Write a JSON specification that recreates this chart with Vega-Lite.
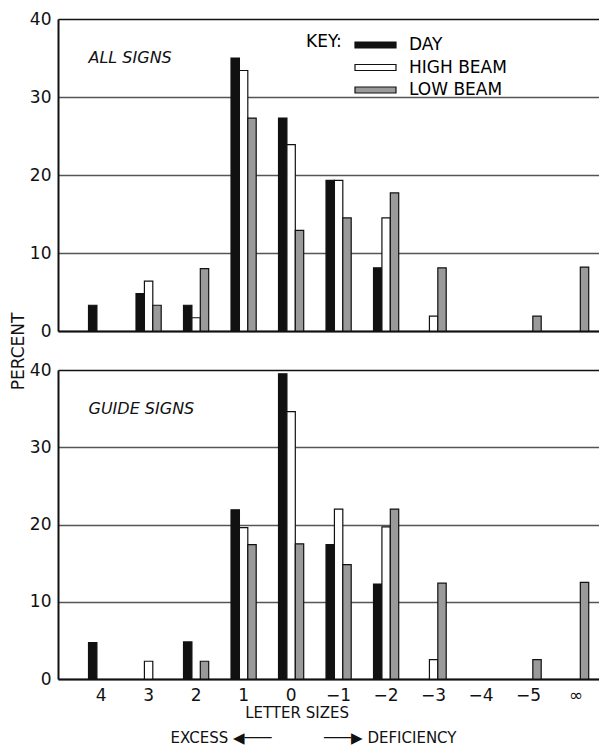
{
  "$schema": "https://vega.github.io/schema/vega-lite/v6.json",
  "padding": {"left": 9, "top": 10, "right": 0, "bottom": 0},
  "bounds": "flush",
  "spacing": 39,
  "config": {
    "font": "DejaVu Sans",
    "view": {"stroke": null},
    "axis": {"titleFontWeight": "normal", "labelColor": "#111", "titleColor": "#111"}
  },
  "datasets": {
    "all": [
      {"cat": "4", "series": "DAY", "value": 3.3},
      {"cat": "3", "series": "DAY", "value": 4.8},
      {"cat": "3", "series": "HIGH BEAM", "value": 6.4},
      {"cat": "3", "series": "LOW BEAM", "value": 3.3},
      {"cat": "2", "series": "DAY", "value": 3.3},
      {"cat": "2", "series": "HIGH BEAM", "value": 1.7},
      {"cat": "2", "series": "LOW BEAM", "value": 8.0},
      {"cat": "1", "series": "DAY", "value": 35.0},
      {"cat": "1", "series": "HIGH BEAM", "value": 33.4},
      {"cat": "1", "series": "LOW BEAM", "value": 27.3},
      {"cat": "0", "series": "DAY", "value": 27.3},
      {"cat": "0", "series": "HIGH BEAM", "value": 23.9},
      {"cat": "0", "series": "LOW BEAM", "value": 12.9},
      {"cat": "−1", "series": "DAY", "value": 19.3},
      {"cat": "−1", "series": "HIGH BEAM", "value": 19.3},
      {"cat": "−1", "series": "LOW BEAM", "value": 14.5},
      {"cat": "−2", "series": "DAY", "value": 8.1},
      {"cat": "−2", "series": "HIGH BEAM", "value": 14.5},
      {"cat": "−2", "series": "LOW BEAM", "value": 17.7},
      {"cat": "−3", "series": "HIGH BEAM", "value": 1.9},
      {"cat": "−3", "series": "LOW BEAM", "value": 8.1},
      {"cat": "−5", "series": "LOW BEAM", "value": 1.9},
      {"cat": "∞", "series": "LOW BEAM", "value": 8.2}
    ],
    "guide": [
      {"cat": "4", "series": "DAY", "value": 4.7},
      {"cat": "3", "series": "HIGH BEAM", "value": 2.3},
      {"cat": "2", "series": "DAY", "value": 4.8},
      {"cat": "2", "series": "LOW BEAM", "value": 2.3},
      {"cat": "1", "series": "DAY", "value": 21.9},
      {"cat": "1", "series": "HIGH BEAM", "value": 19.6},
      {"cat": "1", "series": "LOW BEAM", "value": 17.4},
      {"cat": "0", "series": "DAY", "value": 39.5},
      {"cat": "0", "series": "HIGH BEAM", "value": 34.6},
      {"cat": "0", "series": "LOW BEAM", "value": 17.5},
      {"cat": "−1", "series": "DAY", "value": 17.4},
      {"cat": "−1", "series": "HIGH BEAM", "value": 22.0},
      {"cat": "−1", "series": "LOW BEAM", "value": 14.8},
      {"cat": "−2", "series": "DAY", "value": 12.3},
      {"cat": "−2", "series": "HIGH BEAM", "value": 19.7},
      {"cat": "−2", "series": "LOW BEAM", "value": 22.0},
      {"cat": "−3", "series": "HIGH BEAM", "value": 2.5},
      {"cat": "−3", "series": "LOW BEAM", "value": 12.4},
      {"cat": "−5", "series": "LOW BEAM", "value": 2.5},
      {"cat": "∞", "series": "LOW BEAM", "value": 12.5}
    ]
  },
  "resolve": {"scale": {"color": "independent"}, "legend": {"color": "independent"}},
  "vconcat": [
    {
      "width": 542,
      "height": 312,
      "layer": [
        {
          "data": {"name": "all"},
          "mark": {"type": "bar", "stroke": "#111", "strokeWidth": 1.2, "opacity": 1},
          "encoding": {
            "x": {
              "field": "cat", "type": "nominal",
              "scale": {"domain": ["4", "3", "2", "1", "0", "−1", "−2", "−3", "−4", "−5", "∞"], "paddingInner": 0.47, "paddingOuter": 0.44, "align": 0.73},
              "axis": {"labels": false, "ticks": false, "title": null, "domain": true, "domainColor": "#111", "domainWidth": 2}
            },
            "xOffset": {"field": "series", "type": "nominal", "scale": {"domain": ["DAY", "HIGH BEAM", "LOW BEAM"], "paddingInner": 0, "paddingOuter": 0}},
            "y": {
              "field": "value", "type": "quantitative",
              "scale": {"domain": [0, 40], "nice": false},
              "axis": {
                "values": [0, 10, 20, 30, 40], "ticks": false, "labelFontSize": 17, "labelPadding": 7,
                "domainColor": "#111", "domainWidth": 2,
                "grid": true, "gridWidth": 1.6,
                "gridColor": {"condition": {"test": "datum.value == 40", "value": "#111"}, "value": "#555"},
                "title": "PERCENT", "titleFontSize": 17, "titleX": -40, "titleY": 332, "titleBaseline": "middle"
              }
            },
            "color": {
              "field": "series", "type": "nominal",
              "scale": {"domain": ["DAY", "HIGH BEAM", "LOW BEAM"], "range": ["#111111", "#ffffff", "#9a9a9a"]},
              "legend": {
                "orient": "none", "legendX": 248, "legendY": 15,
                "title": "KEY:", "titleOrient": "left", "titleAnchor": "start", "titleBaseline": "top",
                "titleFontSize": 17, "titleFontWeight": "normal", "titlePadding": 22.5,
                "symbolType": "M-2.05,-0.3H2.05V0.3H-2.05Z", "symbolSize": 400,
                "symbolStrokeColor": "#111", "symbolStrokeWidth": 1.2, "symbolOpacity": 1,
                "labelFontSize": 17, "labelOffset": 22.5, "rowPadding": 3.5
              }
            }
          }
        },
        {
          "data": {"values": [{"cat": "4", "value": 35, "label": "ALL  SIGNS"}]},
          "mark": {"type": "text", "align": "left", "baseline": "middle", "fontStyle": "italic", "fontSize": 16, "color": "#111"},
          "encoding": {
            "x": {"field": "cat", "type": "nominal", "bandPosition": 0},
            "y": {"field": "value", "type": "quantitative"},
            "text": {"field": "label"}
          }
        }
      ]
    },
    {
      "width": 542,
      "height": 309,
      "layer": [
        {
          "data": {"name": "guide"},
          "mark": {"type": "bar", "stroke": "#111", "strokeWidth": 1.2, "opacity": 1},
          "encoding": {
            "x": {
              "field": "cat", "type": "nominal",
              "scale": {"domain": ["4", "3", "2", "1", "0", "−1", "−2", "−3", "−4", "−5", "∞"], "paddingInner": 0.47, "paddingOuter": 0.44, "align": 0.73},
              "axis": {
                "labelAngle": 0, "ticks": false, "labelFontSize": 17, "labelPadding": 8,
                "domainColor": "#111", "domainWidth": 2,
                "title": ["LETTER SIZES\u2800\u2800\u2800", "EXCESS ◀───\u00a0\u00a0\u00a0\u00a0\u00a0\u00a0\u00a0\u00a0\u00a0\u00a0\u00a0───▶ DEFICIENCY"],
                "titleFontSize": 15, "titleLineHeight": 25, "titlePadding": 2, "titleX": 255, "titleAlign": "center"
              }
            },
            "xOffset": {"field": "series", "type": "nominal", "scale": {"domain": ["DAY", "HIGH BEAM", "LOW BEAM"], "paddingInner": 0, "paddingOuter": 0}},
            "y": {
              "field": "value", "type": "quantitative",
              "scale": {"domain": [0, 40], "nice": false},
              "axis": {
                "values": [0, 10, 20, 30, 40], "ticks": false, "labelFontSize": 17, "labelPadding": 7,
                "domainColor": "#111", "domainWidth": 2,
                "grid": true, "gridWidth": 1.6,
                "gridColor": {"condition": {"test": "datum.value == 40", "value": "#111"}, "value": "#555"},
                "title": null
              }
            },
            "color": {
              "field": "series", "type": "nominal",
              "scale": {"domain": ["DAY", "HIGH BEAM", "LOW BEAM"], "range": ["#111111", "#ffffff", "#9a9a9a"]},
              "legend": null
            }
          }
        },
        {
          "data": {"values": [{"cat": "4", "value": 35, "label": "GUIDE  SIGNS"}]},
          "mark": {"type": "text", "align": "left", "baseline": "middle", "fontStyle": "italic", "fontSize": 16, "color": "#111"},
          "encoding": {
            "x": {"field": "cat", "type": "nominal", "bandPosition": 0},
            "y": {"field": "value", "type": "quantitative"},
            "text": {"field": "label"}
          }
        }
      ]
    }
  ]
}
